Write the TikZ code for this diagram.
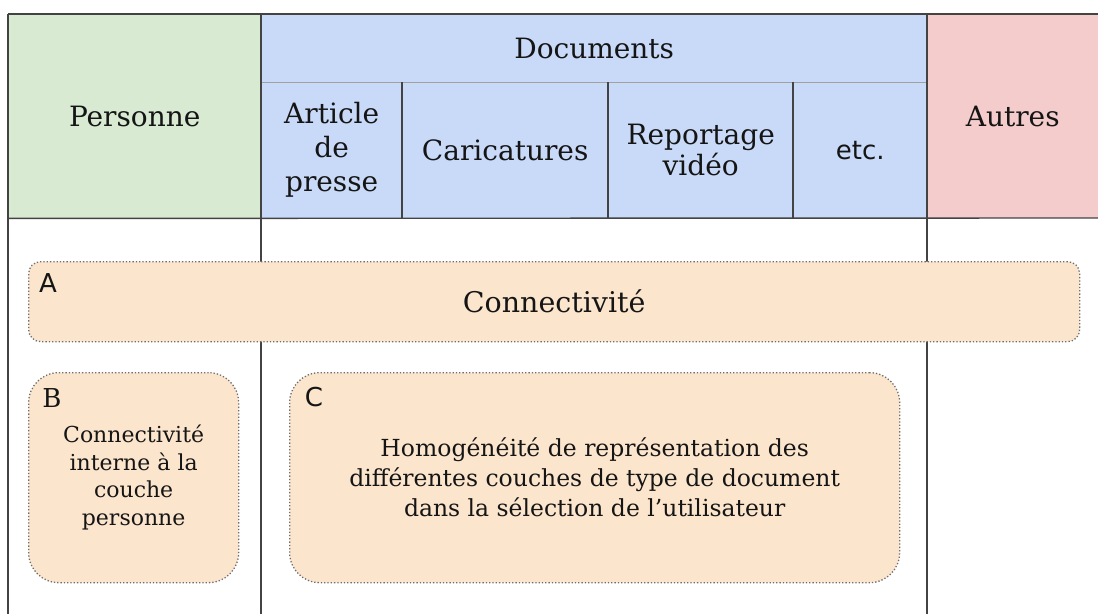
\documentclass[tikz,border=0pt]{standalone}
\usepackage{fontspec}
\setmainfont{DejaVu Serif}
\newfontfamily\lblfont{DejaVu Sans}
\usetikzlibrary{calc}
\definecolor{pgreen}{HTML}{D9EAD3}
\definecolor{pblue}{HTML}{C9DAF8}
\definecolor{pred}{HTML}{F4CCCC}
\definecolor{porange}{HTML}{FCE5CD}
\definecolor{gridline}{HTML}{434343}
\definecolor{softline}{HTML}{A0A0A0}
\definecolor{dotline}{HTML}{6E6E6E}
\definecolor{txt}{HTML}{151515}
\begin{document}
\begin{tikzpicture}[x=1pt,y=-1pt,
  cell/.style={fill=#1, draw=none, anchor=north west, inner sep=0pt, align=center, text=txt,
    font=\fontsize{28}{34}\selectfont},
  grid/.style={draw=gridline, line width=1.4pt},
  softgrid/.style={draw=softline, line width=1.4pt},
  zone/.style={fill=porange, draw=dotline, dotted, line width=1.3pt, anchor=north west,
    inner sep=0pt, align=center, text=txt},
  tag/.style={anchor=center, inner sep=0pt, text=txt, font=\fontsize{26}{30}\selectfont}
]
\useasboundingbox (0,0) rectangle (1098,614);
% header cells
\node[cell=pgreen, minimum width=253pt, minimum height=204pt] (pers) at (8,14) {Personne};
\node[cell=pblue, minimum width=666pt, minimum height=68pt] (docs) at (261,14) {Documents};
\node[cell=pblue, minimum width=141pt, minimum height=136pt] (art) at (261,82) {Article\\de\\presse};
\node[cell=pblue, minimum width=206pt, minimum height=136pt] (cari) at (402,82) {Caricatures};
\node[cell=pblue, minimum width=185pt, minimum height=136pt, font=\fontsize{28}{31}\selectfont] (repo) at (608,82) {Reportage\\vidéo};
\node[cell=pblue, minimum width=134pt, minimum height=136pt, font=\lblfont\fontsize{26}{33}\selectfont] (etc) at (793,82) {etc.};
\node[cell=pred, minimum width=171pt, minimum height=204pt] (autres) at (927,14) {Autres};
% grid lines
\draw[softgrid] (docs.south west) -- (docs.south east);
\draw[grid] (pers.north west) -- (1098,14);
\draw[grid] (pers.south west) -- (1098,218);
\draw[grid] (8,14) -- (8,614);
\draw[grid] (261,14) -- (261,614);
\draw[grid] (927,14) -- (927,614);
\draw[grid] (cari.north west) -- (cari.south west);
\draw[grid] (repo.north west) -- (repo.south west);
\draw[grid] (etc.north west) -- (etc.south west);
% zones
\node[zone, rounded corners=12pt, minimum width=1051pt, minimum height=80pt,
  font=\fontsize{28.5}{33}\selectfont] (za) at (28,261) {Connectivité};
\node[zone, rounded corners=30pt, minimum width=210pt, minimum height=210pt,
  font=\fontsize{22}{27.5}\selectfont] (zb) at (28,372) {Connectivité\\interne à la\\couche\\personne};
\node[zone, rounded corners=30pt, minimum width=610pt, minimum height=210pt,
  font=\fontsize{23.5}{30}\selectfont] (zc) at (289,372)
  {Homogénéité de représentation des\\différentes couches de type de document\\dans la sélection de l’utilisateur};
% zone letters
\node[tag, font=\lblfont\fontsize{26}{30}\selectfont] (la) at ($(za.north west)+(20,22)$) {A};
\node[tag] (lb) at ($(zb.north west)+(24,26)$) {B};
\node[tag, font=\lblfont\fontsize{26}{30}\selectfont] (lc) at ($(zc.north west)+(25,25)$) {C};
\end{tikzpicture}
\end{document}
